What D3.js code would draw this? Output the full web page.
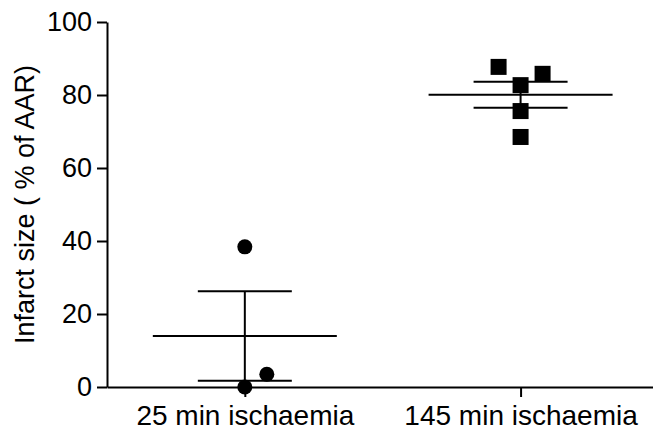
<!DOCTYPE html>
<html>
<head>
<meta charset="utf-8">
<script src="https://cdn.jsdelivr.net/npm/d3@7.9.0/dist/d3.min.js"></script>
<style>
  body { margin: 0; background: #fff; }
  svg { display: block; font-family: "Liberation Sans", Arial, sans-serif; }
</style>
</head>
<body>
<svg id="chart" width="653" height="437"></svg>
<script>
const groups = ['25 min ischaemia', '145 min ischaemia'];
const shortValues = [38.4, 0, 3.5];
const longValues = [87.7, 85.8, 82.7, 75.6, 68.5];
const yTicks = [0, 20, 40, 60, 80, 100];
const yTitle = 'Infarct size ( % of AAR)';

const series = [
  { group: groups[0], values: shortValues, shape: 'circle' },
  { group: groups[1], values: longValues, shape: 'square' },
];

const width = 653;
const height = 437;
const margin = { top: 22, right: 0, bottom: 50, left: 107 };
const svg = d3.select('#chart');

const x = d3.scalePoint()
  .domain(groups)
  .range([margin.left, width - margin.right])
  .padding(0.49)
  .align(0.51);

const y = d3.scaleLinear()
  .domain([0, 100])
  .range([height - margin.bottom, margin.top]);

// y axis
const yAxis = svg.append('g')
  .attr('transform', `translate(${margin.left},0)`)
  .call(d3.axisLeft(y).tickValues(yTicks).tickSize(10).tickSizeOuter(0).tickPadding(5));

// x axis
const xAxis = svg.append('g')
  .attr('transform', `translate(0,${y(0)})`)
  .call(d3.axisBottom(x).tickSize(10).tickSizeOuter(0).tickPadding(8));

[yAxis, xAxis].forEach((g) => {
  g.selectAll('path, line').attr('stroke', '#000').attr('stroke-width', 2);
  g.selectAll('text').attr('fill', '#000');
});
yAxis.selectAll('text').attr('font-size', 27);
xAxis.selectAll('text').attr('font-size', 28);

svg.append('text')
  .attr('transform', `translate(34,${(y(0) + y(100)) / 2}) rotate(-90)`)
  .attr('text-anchor', 'middle')
  .attr('font-size', 27)
  .text(yTitle);

const meanHalf = 92;
const capHalf = 47;
const dodge = 22;
const markerSize = 16;

series.forEach((s) => {
  const cx = x(s.group);
  const mean = d3.mean(s.values);
  const sem = d3.deviation(s.values) / Math.sqrt(s.values.length);
  const g = svg.append('g').attr('stroke', '#000').attr('stroke-width', 2);

  g.append('line')
    .attr('x1', cx).attr('x2', cx)
    .attr('y1', y(mean + sem)).attr('y2', y(mean - sem));
  g.append('line')
    .attr('x1', cx - meanHalf).attr('x2', cx + meanHalf)
    .attr('y1', y(mean)).attr('y2', y(mean));
  [mean + sem, mean - sem].forEach((v) => {
    g.append('line')
      .attr('x1', cx - capHalf).attr('x2', cx + capHalf)
      .attr('y1', y(v)).attr('y2', y(v));
  });

  // place points low to high, shifting sideways when they would overlap
  let placed = [];
  let sorted = s.values.slice().sort((a, b) => a - b);
  sorted.forEach((v) => {
    let py = y(v);
    let offsets = [0, dodge, -dodge, 2 * dodge, -2 * dodge];
    let off = offsets.find((o) =>
      !placed.some((p) => p.off === o && Math.abs(p.py - py) < 20),
    );
    placed.push({ off, py });
  });

  placed.forEach((p) => {
    if (s.shape === 'circle') {
      svg.append('circle')
        .attr('cx', cx + p.off)
        .attr('cy', p.py)
        .attr('r', markerSize / 2 - 0.5)
        .attr('fill', '#000');
    } else {
      svg.append('rect')
        .attr('x', cx + p.off - markerSize / 2)
        .attr('y', p.py - markerSize / 2)
        .attr('width', markerSize)
        .attr('height', markerSize)
        .attr('fill', '#000');
    }
  });
});
</script>
</body>
</html>
